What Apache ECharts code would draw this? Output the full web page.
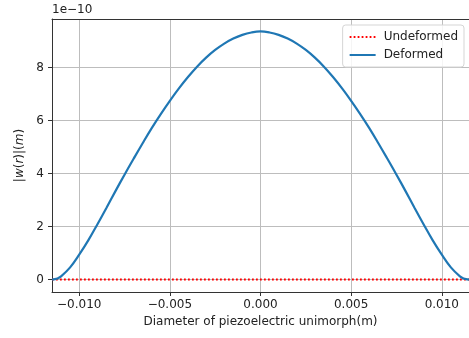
<!DOCTYPE html>
<html>
<head>
<meta charset="utf-8">
<script src="https://cdn.jsdelivr.net/npm/echarts@6/dist/echarts.min.js"></script>
<style>
  html, body { margin: 0; padding: 0; background: #fff; }
  #chart { width: 469px; height: 338px; }
</style>
</head>
<body>
<div id="chart"></div>
<script>
// positions along the diameter (m)
const radius = [
  -0.0115, -0.0112, -0.0110, -0.0105, -0.0100, -0.0095, -0.0090, -0.0085, -0.0080,
  -0.0075, -0.0070, -0.0065, -0.0060, -0.0055, -0.0050, -0.0045, -0.0040, -0.0035,
  -0.0030, -0.0025, -0.0020, -0.0015, -0.0010, -0.0005, 0.0,
  0.0005, 0.0010, 0.0015, 0.0020, 0.0025, 0.0030, 0.0035, 0.0040, 0.0045, 0.0050,
  0.0055, 0.0060, 0.0065, 0.0070, 0.0075, 0.0080, 0.0085, 0.0090, 0.0095, 0.0100,
  0.0105, 0.0110, 0.0112, 0.0115
];
// |w(r)| in units of 1e-10 m
const deformed = [
  0.00, 0.04, 0.12, 0.46, 0.94, 1.48, 2.08, 2.70, 3.34,
  3.96, 4.56, 5.15, 5.72, 6.25, 6.75, 7.22, 7.65, 8.04,
  8.38, 8.67, 8.91, 9.10, 9.24, 9.33, 9.37,
  9.33, 9.24, 9.10, 8.91, 8.67, 8.38, 8.04, 7.65, 7.22, 6.75,
  6.25, 5.72, 5.15, 4.56, 3.96, 3.34, 2.70, 2.08, 1.48, 0.94,
  0.46, 0.12, 0.04, 0.00
];
const undeformedX = [-0.0115, 0.0115];
const undeformed = [0, 0];

const xTicks = [-0.010, -0.005, 0.000, 0.005, 0.010];
const yTicks = [0, 2, 4, 6, 8];

const font = 'DejaVu Sans';
const textColor = '#222';

const chart = echarts.init(document.getElementById('chart'), null, { renderer: 'canvas' });

const fmtX = v => v.toFixed(3).replace('-', '\u2212');

chart.setOption({
  animation: false,
  backgroundColor: '#fff',
  textStyle: { fontFamily: font },
  grid: { left: 52, top: 19, width: 420, height: 273, containLabel: false },
  graphic: [{
    type: 'text', left: 52, top: 4,
    style: { text: '1e\u221210', font: '12px ' + font, fill: textColor }
  }],
  legend: {
    orient: 'vertical',
    right: 5, top: 25,
    itemWidth: 26, itemHeight: 10, itemGap: 6,
    padding: [6, 6, 6, 6],
    backgroundColor: 'rgba(255,255,255,0.85)',
    borderColor: '#d5d5d5', borderWidth: 1, borderRadius: 3,
    itemStyle: { opacity: 0 },
    textStyle: { fontFamily: font, fontSize: 12, color: textColor, padding: [0, 0, 0, 3] },
    data: ['Undeformed', 'Deformed']
  },
  xAxis: [{
    type: 'value', min: -0.0115, max: 0.0115,
    name: 'Diameter of piezoelectric unimorph(m)',
    nameLocation: 'middle', nameGap: 24,
    nameTextStyle: { fontFamily: font, fontSize: 12, color: textColor },
    axisLine: { show: true, onZero: false, lineStyle: { color: '#333', width: 1 } },
    axisTick: { show: true, length: 4, customValues: xTicks, lineStyle: { color: '#333' } },
    axisLabel: { customValues: xTicks, formatter: fmtX, margin: 7, fontSize: 12, color: textColor, fontFamily: font },
    splitLine: { show: true, lineStyle: { color: '#bdbdbd', width: 1 } }
  }, {
    type: 'value', position: 'top', min: -0.0115, max: 0.0115,
    axisLine: { show: true, onZero: false, lineStyle: { color: '#333', width: 1 } },
    axisTick: { show: false }, axisLabel: { show: false }, splitLine: { show: false }
  }],
  yAxis: [{
    type: 'value', min: -0.47, max: 9.84,
    name: '|{i|w}({i|r})|({i|m})',
    nameLocation: 'middle', nameGap: 26, nameRotate: 90,
    nameTextStyle: {
      fontFamily: font, fontSize: 12, color: textColor,
      rich: { i: { fontFamily: font, fontSize: 12, fontStyle: 'italic', color: textColor } }
    },
    axisLine: { show: true, onZero: false, lineStyle: { color: '#333', width: 1 } },
    axisTick: { show: true, length: 4, customValues: yTicks, lineStyle: { color: '#333' } },
    axisLabel: { customValues: yTicks, margin: 8, fontSize: 12, color: textColor, fontFamily: font },
    splitLine: { show: true, lineStyle: { color: '#bdbdbd', width: 1 } }
  }, {
    type: 'value', position: 'right', min: -0.47, max: 9.84,
    axisLine: { show: true, onZero: false, lineStyle: { color: '#333', width: 1 } },
    axisTick: { show: false }, axisLabel: { show: false }, splitLine: { show: false }
  }],
  series: [{
    name: 'Undeformed',
    type: 'line',
    symbol: 'none',
    data: undeformedX.map((x, i) => [x, undeformed[i]]),
    lineStyle: { color: '#ff0000', width: 2, type: [1.8, 2.2] },
    itemStyle: { color: '#ff0000' },
    z: 3
  }, {
    name: 'Deformed',
    type: 'line',
    symbol: 'none',
    smooth: 0.4,
    data: radius.map((x, i) => [x, deformed[i]]),
    lineStyle: { color: '#1f77b4', width: 2.2 },
    itemStyle: { color: '#1f77b4' },
    z: 4
  }]
});
</script>
</body>
</html>
